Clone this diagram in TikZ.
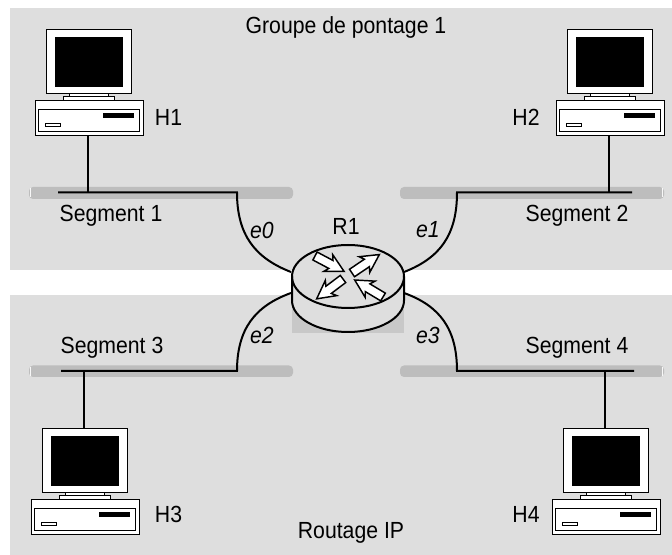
\documentclass[tikz,border=0pt]{standalone}
\usepackage{fontspec}
\setmainfont[FakeStretch=0.91]{Liberation Sans}
\definecolor{bgg}{HTML}{DEDEDE}
\definecolor{barg}{HTML}{BDBDBD}
\definecolor{shg}{HTML}{C8C8C8}
\tikzset{
  lbl/.style={font=\fontsize{17.5}{19}\selectfont,inner sep=0pt,text=black},
  elbl/.style={lbl,font=\fontsize{17.5}{19}\selectfont\itshape},
  wire/.style={draw=black,line width=1.5pt},
  segbar/.style={fill=barg,draw=none,rounded corners=3pt},
  pcpart/.style={draw=black,fill=white,line width=0.75pt},
  computer/.pic={
    \path[pcpart] (46,30) rectangle (131,94);
    \path[fill=black] (55,37) rectangle (123,87);
    \path[pcpart] (69,94) rectangle (108,97);
    \path[pcpart] (63,97) rectangle (114,101);
    \path[pcpart] (35,101) rectangle (143,136);
    \path[pcpart] (38.5,110) rectangle (139,132);
    \path[fill=black] (103,113) rectangle (134,118);
    \path[pcpart] (45.5,123.5) rectangle (60,127);
    \coordinate (-top) at (88,30);
    \coordinate (-bot) at (88,136);
  },
  flowarrow/.pic={
    \path[draw=black,fill=white,line width=1.1pt,line join=miter]
      (0,-4.5) -- (18,-4.5) -- (15,-9.5) -- (33,0) -- (15,9.5) -- (18,4.5) -- (0,4.5) -- cycle;
  }
}
\begin{document}
\begin{tikzpicture}[x=0.75pt,y=-0.75pt]
\useasboundingbox (0,0) rectangle (672,555);
\fill[bgg] (10,8) rectangle (672,270);
\fill[bgg] (10,295) rectangle (672,555);
\fill[shg] (292,295) rectangle (404,333);
% segment bars
\path[segbar] (29,187) rectangle (293,199);
\path[segbar] (400,187) rectangle (664,199);
\path[segbar] (29,365.5) rectangle (293,377);
\path[segbar] (400,365.5) rectangle (664,377);
\fill[white!90!barg] (29.5,188.5) rectangle (31,197.5);
\fill[white!90!barg] (29.5,367) rectangle (31,376);
\fill[white!90!barg] (661.5,188.5) rectangle (663,197.5);
\fill[white!90!barg] (661.5,367) rectangle (663,376);
% computers
\pic (H1) at (0,0) {computer};
\pic (H2) at (521,0) {computer};
\pic (H3) at (-4,399) {computer};
\pic (H4) at (517,399) {computer};
% router
\coordinate (e0) at (291,272);
\coordinate (e1) at (404,272);
\coordinate (e2) at (291,293);
\coordinate (e3) at (404,293);
\coordinate (s1a) at (58,192.5);
\coordinate (s1b) at (237,192.5);
\coordinate (s2a) at (632,192.5);
\coordinate (s2b) at (457,192.5);
\coordinate (s3a) at (61,371);
\coordinate (s3b) at (237,371);
\coordinate (s4a) at (634,371);
\coordinate (s4b) at (457,371);
\coordinate (t1) at (H1-bot |- s1a);
\coordinate (t2) at (H2-bot |- s2a);
\coordinate (t3) at (H3-top |- s3a);
\coordinate (t4) at (H4-top |- s4a);
\draw[wire] (s1a) -- (s1b) .. controls (237,235) and (255,258) .. (e0);
\draw[wire] (s2a) -- (s2b) .. controls (457,235) and (440,258) .. (e1);
\draw[wire] (s3a) -- (s3b) .. controls (237,329) and (255,306) .. (e2);
\draw[wire] (s4a) -- (s4b) .. controls (457,329) and (440,306) .. (e3);
\draw[wire] (H1-bot) -- (t1);
\draw[wire] (H2-bot) -- (t2);
\draw[wire] (H3-top) -- (t3);
\draw[wire] (H4-top) -- (t4);
% router body
\path[fill=bgg,draw=black,line width=1.5pt,line join=round]
  (292,276.5) .. controls (292,259.1) and (317,245) .. (348,245)
  .. controls (379,245) and (404,259.1) .. (404,276.5)
  -- (404,300.5) .. controls (404,317.9) and (379,332) .. (348,332)
  .. controls (317,332) and (292,317.9) .. (292,300.5) -- cycle;
\draw[line width=1.5pt] (292,276.5) .. controls (292,293.9) and (317,308) .. (348,308)
  .. controls (379,308) and (404,293.9) .. (404,276.5);
\pic[rotate=-28] at (315,256) {flowarrow};
\pic[rotate=34] at (352,273) {flowarrow};
\pic[rotate=-143] at (343,279) {flowarrow};
\pic[rotate=149] at (383,297) {flowarrow};
% labels
\node[lbl] (grp) at (346,27) {Groupe de pontage 1};
\node[lbl] (rip) at (351,533) {Routage IP};
\node[lbl] (r1) at (346,226) {R1};
\node[lbl] (l1) at (168.5,117) {H1};
\node[lbl] (l2) at (526,117) {H2};
\node[lbl] (l3) at (168.5,514) {H3};
\node[lbl] (l4) at (526,514) {H4};
\node[lbl] (g1) at (111,216) {Segment 1};
\node[lbl] (g2) at (577,216) {Segment 2};
\node[lbl] (g3) at (112,348) {Segment 3};
\node[lbl] (g4) at (577,348) {Segment 4};
\node[elbl] (x0) at (262,230) {e0};
\node[elbl] (x1) at (428,230) {e1};
\node[elbl] (x2) at (262,335) {e2};
\node[elbl] (x3) at (428,335) {e3};
\end{tikzpicture}
\end{document}
